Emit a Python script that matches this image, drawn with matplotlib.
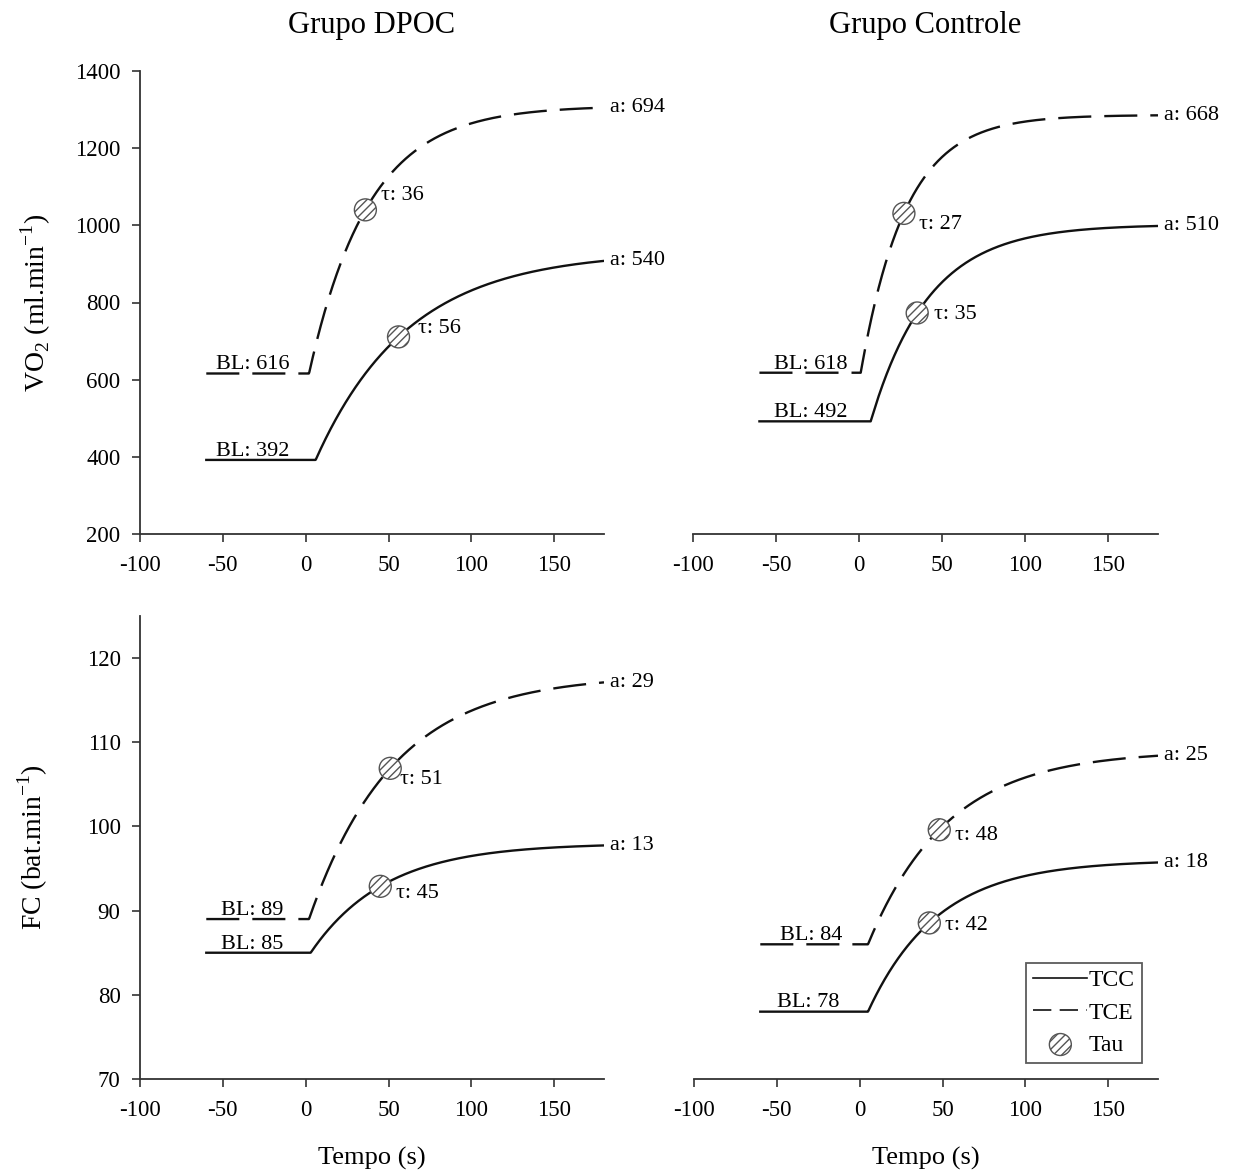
import numpy as np
import matplotlib
matplotlib.use("Agg")
import matplotlib.pyplot as plt
from matplotlib.lines import Line2D

plt.rcParams['font.family'] = ['Liberation Serif', 'DejaVu Serif']
plt.rcParams['mathtext.fontset'] = 'custom'
plt.rcParams['mathtext.rm'] = 'Liberation Serif'
plt.rcParams['hatch.color'] = '#666666'
plt.rcParams['hatch.linewidth'] = 1.0

# ---------------- data ----------------
panel_titles = ["Grupo DPOC", "Grupo Controle"]
t_start, t_end = -60, 180

# per panel: [TCC, TCE]; order: VO2-DPOC, VO2-Controle, FC-DPOC, FC-Controle
baseline = [[392, 616], [492, 618], [85, 89], [78, 86]]
amplitude = [[540, 694], [510, 668], [13, 29], [18, 23]]
tau = [[56, 36], [35, 27], [45, 51], [42, 48]]
delay = [[6, 2], [7, 1], [3, 2], [5, 5]]

bl_labels = [["BL: 392", "BL: 616"], ["BL: 492", "BL: 618"],
             ["BL: 85", "BL: 89"], ["BL: 78", "BL: 84"]]
a_labels = [["a: 540", "a: 694"], ["a: 510", "a: 668"],
            ["a: 13", "a: 29"], ["a: 18", "a: 25"]]
tau_labels = [["τ: 56", "τ: 36"], ["τ: 35", "τ: 27"],
              ["τ: 45", "τ: 51"], ["τ: 42", "τ: 48"]]

xticks = [-100, -50, 0, 50, 100, 150]
vo2_ticks = [200, 400, 600, 800, 1000, 1200, 1400]
fc_ticks = [70, 80, 90, 100, 110, 120]

# layout (label offsets in points)
tau_off = [[(14, 6), (11, 10)], [(12, -1), (11, -8)],
           [(11, -5), (7, -8)], [(11, -2), (11, -4)]]
bl_x = [[-54, -54], [-51, -51], [-51, -51], [-50, -48]]

W, H = 1236, 1173
fig = plt.figure(figsize=(W / 100, H / 100), dpi=100)
axpos = [
    (140, 71, 604, 534),
    (693, 71, 1158, 534),
    (140, 616, 604, 1079),
    (694, 616, 1158, 1079),
]
axes = []
for (x0, y0, x1, y1) in axpos:
    axes.append(fig.add_axes([x0 / W, 1 - y1 / H, (x1 - x0) / W, (y1 - y0) / H]))

line_col = '#111111'
spine_col = '#333333'
dash = (0, (14, 5.5))
mk_size = 250
mk_hatch = '////'

t = np.linspace(t_start, t_end, 800)

def model(tt, bl, a, tu, td):
    return np.where(tt < td, bl, bl + a * (1 - np.exp(-(tt - td) / tu)))

for i, ax in enumerate(axes):
    for j in range(2):
        bl, a, tu, td = baseline[i][j], amplitude[i][j], tau[i][j], delay[i][j]
        y = model(t, bl, a, tu, td)
        ls = '-' if j == 0 else dash
        ax.plot(t, y, color=line_col, lw=1.7, linestyle=ls, zorder=2)
        ym = model(np.array([tu]), bl, a, tu, td)[0]
        ax.scatter([tu], [ym], s=mk_size, facecolor='white', edgecolor='#555555',
                   hatch=mk_hatch, linewidths=1.0, zorder=4)
        ax.annotate(tau_labels[i][j], (tu, ym), xytext=tau_off[i][j],
                    textcoords='offset points', ha='left', va='center', fontsize=16)
        ax.annotate(a_labels[i][j], (t_end, y[-1]), xytext=(4, 0),
                    textcoords='offset points', ha='left', va='center', fontsize=16)
        ax.annotate(bl_labels[i][j], (bl_x[i][j], bl), xytext=(0, 3),
                    textcoords='offset points', ha='left', va='baseline', fontsize=16)

    ax.set_xlim(-100, 180)
    ax.set_xticks(xticks)
    ax.set_xticklabels([str(v) for v in xticks])
    if i < 2:
        ax.set_ylim(200, 1400)
        ax.set_yticks(vo2_ticks)
    else:
        ax.set_ylim(70, 125)
        ax.set_yticks(fc_ticks)
    for s in ['top', 'right']:
        ax.spines[s].set_visible(False)
    for s in ['bottom', 'left']:
        ax.spines[s].set_color(spine_col)
        ax.spines[s].set_linewidth(1.3)
    ax.tick_params(direction='out', length=6, width=1.2, colors=spine_col,
                   labelcolor='black', labelsize=16.5)
    ax.tick_params(axis='x', pad=9)
    ax.tick_params(axis='y', pad=8)
    if i % 2 == 1:
        ax.spines['left'].set_visible(False)
        ax.tick_params(axis='y', left=False, labelleft=False)
    ax.set_facecolor('none')

axes[0].set_title(panel_titles[0], fontsize=22, pad=27)
axes[1].set_title(panel_titles[1], fontsize=22, pad=27)
axes[0].set_ylabel(r'VO$_2$ (ml.min$^{-1}$)', fontsize=20, labelpad=16)
axes[2].set_ylabel(r'FC (bat.min$^{-1}$)', fontsize=20, labelpad=26)
axes[2].set_xlabel('Tempo (s)', fontsize=19, labelpad=19)
axes[3].set_xlabel('Tempo (s)', fontsize=19, labelpad=19)

# legend
ax = axes[3]
h1 = Line2D([], [], color=line_col, lw=1.2, linestyle='-')
h2 = Line2D([], [], color=line_col, lw=1.2, linestyle=(0, (11, 5)))
h3 = ax.scatter([], [], s=mk_size, facecolor='white', edgecolor='#555555',
                hatch=mk_hatch, linewidths=1.0)
leg = ax.legend([h1, h2, h3], ['TCC', 'TCE', 'Tau'], loc='lower right',
                bbox_to_anchor=(0.965, 0.035), fontsize=17, frameon=True,
                fancybox=False, edgecolor='#333333', handlelength=2.3,
                handletextpad=0.05, borderpad=0.3, labelspacing=0.45,
                borderaxespad=0)
leg.get_frame().set_linewidth(1.3)

fig.savefig('out.png', dpi=100)
